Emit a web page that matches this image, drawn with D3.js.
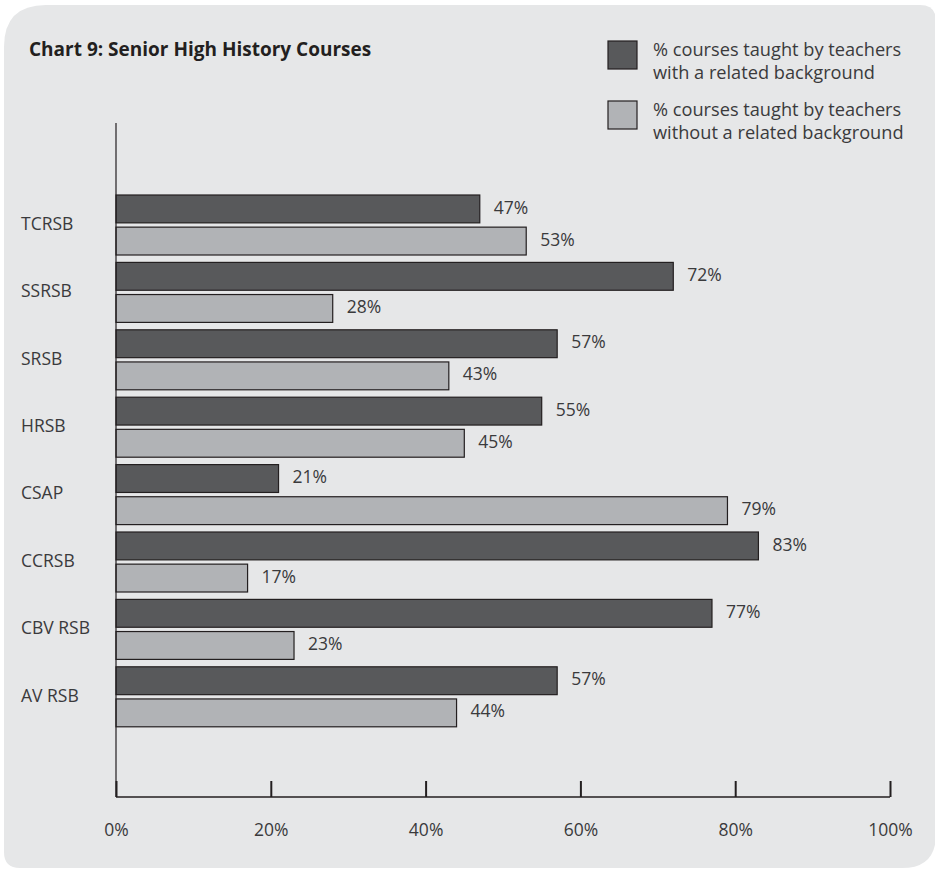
<!DOCTYPE html>
<html>
<head>
<meta charset="utf-8">
<script src="https://cdn.jsdelivr.net/npm/d3@7/dist/d3.min.js"></script>
<style>
  html, body { margin: 0; padding: 0; background: #ffffff; }
  svg text { font-family: "Open Sans", "DejaVu Sans", sans-serif; }
</style>
</head>
<body>
<div id="chart"></div>
<script>
// data
var categories = ["TCRSB", "SSRSB", "SRSB", "HRSB", "CSAP", "CCRSB", "CBV RSB", "AV RSB"];
var withBackground = [47, 72, 57, 55, 21, 83, 77, 57];
var withoutBackground = [53, 28, 43, 45, 79, 17, 23, 44];
var seriesNames = [
    ["% courses taught by teachers", "with a related background"],
    ["% courses taught by teachers", "without a related background"]
];
var xTicks = [0, 20, 40, 60, 80, 100];

var width = 935, height = 869;
var colors = ["#58595b", "#b1b3b6"];
var textColor = "#3a3a3c";
var fs = 17.5;

var svg = d3.select("#chart").append("svg")
    .attr("width", width).attr("height", height);

// panel background, uneven corner radii like the original
var bx0 = 4, by0 = 5, bx1 = 936, by1 = 868;
var rTL = 42, rTR = 16, rBR = 34, rBL = 16;
var bg = d3.path();
bg.moveTo(bx0 + rTL, by0);
bg.lineTo(bx1 - rTR, by0);
bg.quadraticCurveTo(bx1, by0, bx1, by0 + rTR);
bg.lineTo(bx1, by1 - rBR);
bg.quadraticCurveTo(bx1, by1, bx1 - rBR, by1);
bg.lineTo(bx0 + rBL, by1);
bg.quadraticCurveTo(bx0, by1, bx0, by1 - rBL);
bg.lineTo(bx0, by0 + rTL);
bg.quadraticCurveTo(bx0, by0, bx0 + rTL, by0);
bg.closePath();
svg.append("path").attr("d", bg.toString()).attr("fill", "#e6e7e8");

// title
svg.append("text")
    .attr("x", 29).attr("y", 56)
    .attr("font-size", 19).attr("font-weight", "bold")
    .attr("fill", "#231f20")
    .text("Chart 9: Senior High History Courses");

// legend
var legend = svg.append("g").attr("transform", "translate(608,41)");
seriesNames.forEach(function(lines, i){
    var g = legend.append("g").attr("transform", "translate(0," + (i * 60) + ")");
    g.append("rect")
        .attr("x", 0).attr("y", 0).attr("width", 29).attr("height", 28)
        .attr("fill", colors[i]).attr("stroke", "#231f20").attr("stroke-width", 1.2);
    lines.forEach(function(t, j){
        g.append("text")
            .attr("x", 45).attr("y", 15 + j * 23)
            .attr("font-size", 18.2).attr("fill", textColor)
            .text(t);
    });
});

// scales
var x0 = 116, x1 = 890, yTop = 123, yBase = 797;
var xScale = d3.scaleLinear().domain([0, 100]).range([x0, x1]);
var yScale = d3.scaleBand().domain(categories)
    .range([191, 191 + 67.4 * categories.length]).paddingInner(0).paddingOuter(0);
var barH = 26, barGap = 8;
var inner = d3.scaleBand().domain([0, 1]).range([4, 4 + barH * 2 + barGap]).paddingInner(barGap / (barH + barGap / 2) / 2);

// bars
var series = [withBackground, withoutBackground];
series.forEach(function(vals, s){
    var rows = categories.map(function(c, i){ return {name: c, value: vals[i]}; });
    svg.append("g").selectAll("rect")
        .data(rows).enter().append("rect")
        .attr("x", xScale(0))
        .attr("y", function(d){ return yScale(d.name) + inner(s); })
        .attr("width", function(d){ return xScale(d.value) - xScale(0); })
        .attr("height", inner.bandwidth())
        .attr("fill", colors[s])
        .attr("stroke", "#231f20").attr("stroke-width", 1.2);
    svg.append("g").selectAll("text")
        .data(rows).enter().append("text")
        .attr("x", function(d){ return xScale(d.value) + 14; })
        .attr("y", function(d){ return yScale(d.name) + inner(s) + inner.bandwidth() / 2 - 1.5; })
        .attr("dy", "0.35em")
        .attr("font-size", fs).attr("fill", textColor)
        .text(function(d){ return d.value + "%"; });
});

// category labels
svg.append("g").selectAll("text")
    .data(categories).enter().append("text")
    .attr("x", 21)
    .attr("y", function(d){ return yScale(d) + yScale.bandwidth() / 2 - 1; })
    .attr("dy", "0.35em")
    .attr("font-size", fs).attr("fill", textColor)
    .text(function(d){ return d; });

// y axis line
svg.append("line")
    .attr("x1", x0).attr("x2", x0).attr("y1", yTop).attr("y2", yBase)
    .attr("stroke", "#231f20").attr("stroke-width", 1.2);

// x axis: ticks go up from the baseline, labels sit well below
var xAxis = d3.axisBottom(xScale).tickValues(xTicks).tickSize(-16).tickFormat(function(d){ return d + "%"; });
var ax = svg.append("g").attr("transform", "translate(0," + yBase + ")").call(xAxis);
ax.select(".domain").attr("stroke", "#231f20").attr("stroke-width", 1.5).attr("d", "M" + x0 + ",0H" + x1);
ax.selectAll(".tick line").attr("stroke", "#231f20").attr("stroke-width", 2);
ax.selectAll(".tick text")
    .attr("y", 33).attr("dy", "0.35em")
    .attr("font-size", fs).attr("fill", textColor)
    .attr("font-family", "'Open Sans', sans-serif");
</script>
</body>
</html>
